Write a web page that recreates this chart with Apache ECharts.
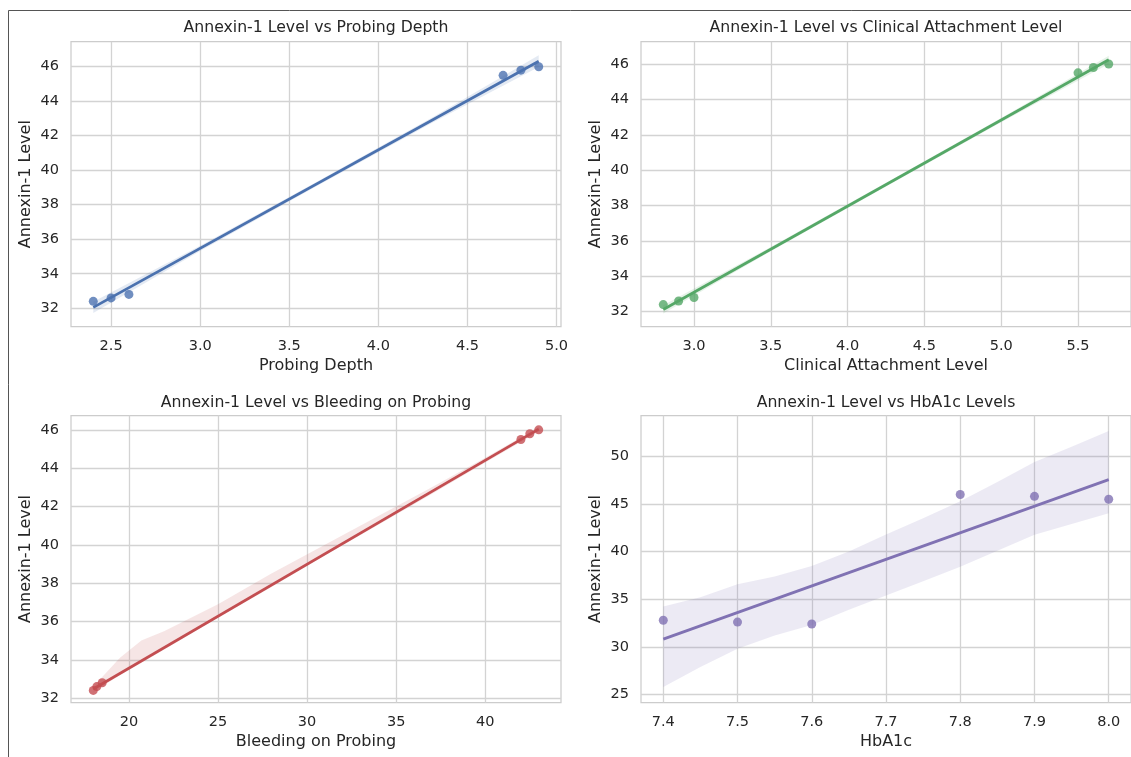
<!DOCTYPE html>
<html><head><meta charset="utf-8">
<script src="https://cdn.jsdelivr.net/npm/echarts@6/dist/echarts.min.js"></script>
<style>html,body{margin:0;padding:0;background:#fff}#c{width:1131px;height:757px}</style>
</head><body><div id="c"></div>
<script>
// ---- data ----
const annexin = [32.4, 32.6, 32.8, 45.5, 45.8, 46.0];
const probingDepth = [2.4, 2.5, 2.6, 4.7, 4.8, 4.9];
const clinicalAttachment = [2.8, 2.9, 3.0, 5.5, 5.6, 5.7];
const bleedingOnProbing = [18.0, 18.2, 18.5, 42.0, 42.5, 43.0];
const hba1c = [7.6, 7.5, 7.4, 8.0, 7.9, 7.8];

// confidence bands (bootstrap)
const pdBandX = [2.4, 3.0, 3.65, 4.3, 4.9];
const pdBandLo = [31.72, 35.32, 39.06, 42.74, 45.99];
const pdBandHi = [32.38, 35.62, 39.30, 43.04, 46.67];
const calBandX = [2.8, 3.5, 4.25, 5.0, 5.7];
const calBandLo = [31.90, 35.42, 39.08, 42.71, 46.00];
const calBandHi = [32.36, 35.66, 39.28, 42.95, 46.46];
const bopBandX = [18, 18.5, 19.5, 20.7, 22, 25, 28, 31, 34, 37, 40, 43];
const bopBandLo = [32.3, 32.6, 33.2, 33.85, 34.55, 36.2, 37.8, 39.45, 41.05, 42.65, 44.3, 45.9];
const bopBandHi = [32.6, 33.1, 34.1, 35.0, 35.5, 36.9, 38.5, 40.0, 41.5, 43.0, 44.55, 46.15];
const hbBandX = [7.4, 7.45, 7.5, 7.55, 7.6, 7.65, 7.7, 7.75, 7.8, 7.85, 7.9, 7.95, 8.0];
const hbBandLo = [25.8, 27.9, 29.8, 31.2, 32.3, 33.9, 35.4, 36.9, 38.4, 40.1, 41.76, 42.9, 44.03];
const hbBandHi = [34.24, 35.2, 36.57, 37.4, 38.5, 40.0, 41.8, 43.5, 45.3, 47.3, 49.4, 51.0, 52.67];

// tick labels
const pdTicks = [2.5, 3.0, 3.5, 4.0, 4.5, 5.0];
const calTicks = [3.0, 3.5, 4.0, 4.5, 5.0, 5.5];
const bopTicks = [20, 25, 30, 35, 40];
const hbTicks = [7.4, 7.5, 7.6, 7.7, 7.8, 7.9, 8.0];
const annexTicks = [32, 34, 36, 38, 40, 42, 44, 46];
const annexTicksWide = [25, 30, 35, 40, 45, 50];

const titles = ['Annexin-1 Level vs Probing Depth', 'Annexin-1 Level vs Clinical Attachment Level',
  'Annexin-1 Level vs Bleeding on Probing', 'Annexin-1 Level vs HbA1c Levels'];
const xNames = ['Probing Depth', 'Clinical Attachment Level', 'Bleeding on Probing', 'HbA1c'];
const yName = 'Annexin-1 Level';

// ---- layout / style ----
const FONT = 'DejaVu Sans';
const TXT = '#262626';
const GRIDC = '#d3d3d3';
const panels = [
  {x: probingDepth, band: [pdBandX, pdBandLo, pdBandHi], xt: pdTicks, yt: annexTicks, xr: [2.275, 5.025], yr: [30.93, 47.45], color: '#4c72b0', dec: 1,
   g: {left: 71, top: 41.7, width: 490, height: 285}, ty: 28},
  {x: clinicalAttachment, band: [calBandX, calBandLo, calBandHi], xt: calTicks, yt: annexTicks, xr: [2.655, 5.845], yr: [31.15, 47.26], color: '#55a868', dec: 1,
   g: {left: 641, top: 41.7, width: 490, height: 285}, ty: 28},
  {x: bleedingOnProbing, band: [bopBandX, bopBandLo, bopBandHi], xt: bopTicks, yt: annexTicks, xr: [16.75, 44.25], yr: [31.77, 46.75], color: '#c44e52', dec: 0,
   g: {left: 71, top: 415.5, width: 490, height: 287}, ty: 403},
  {x: hba1c, band: [hbBandX, hbBandLo, hbBandHi], xt: hbTicks, yt: annexTicksWide, xr: [7.37, 8.03], yr: [24.16, 54.29], color: '#8172b3', dec: 1,
   g: {left: 641, top: 415.5, width: 490, height: 287}, ty: 403}
];

function ols(xs, ys) {
  const n = xs.length;
  const mx = xs.reduce((a, b) => a + b, 0) / n, my = ys.reduce((a, b) => a + b, 0) / n;
  let sxy = 0, sxx = 0;
  for (let i = 0; i < n; i++) { sxy += (xs[i] - mx) * (ys[i] - my); sxx += (xs[i] - mx) ** 2; }
  const b = sxy / sxx;
  return x => my + b * (x - mx);
}
function hexA(hex, a) {
  const r = parseInt(hex.slice(1, 3), 16), g = parseInt(hex.slice(3, 5), 16), b = parseInt(hex.slice(5, 7), 16);
  return `rgba(${r},${g},${b},${a})`;
}

const grid = [], xAxis = [], yAxis = [], series = [], graphic = [];
panels.forEach((p, i) => {
  grid.push(Object.assign({show: true, borderColor: '#cccccc', borderWidth: 1.25, backgroundColor: '#fff', containLabel: false}, p.g));
  xAxis.push({type: 'value', gridIndex: i, min: p.xr[0], max: p.xr[1],
    name: xNames[i], nameLocation: 'middle', nameGap: 31,
    nameTextStyle: {fontFamily: FONT, fontSize: 16, color: TXT},
    axisLine: {show: false}, axisTick: {show: false, customValues: p.xt},
    axisLabel: {customValues: p.xt, margin: 12, fontFamily: FONT, fontSize: 14.5, color: TXT,
      formatter: v => Number(v).toFixed(p.dec)},
    splitLine: {show: true, lineStyle: {color: GRIDC, width: 1.3}}});
  yAxis.push({type: 'value', gridIndex: i, min: p.yr[0], max: p.yr[1],
    name: yName, nameLocation: 'middle', nameGap: 37, nameRotate: 90,
    nameTextStyle: {fontFamily: FONT, fontSize: 16, color: TXT},
    axisLine: {show: false}, axisTick: {show: false, customValues: p.yt},
    axisLabel: {customValues: p.yt, margin: 12, fontFamily: FONT, fontSize: 14.5, color: TXT,
      formatter: v => String(Math.round(v))},
    splitLine: {show: true, lineStyle: {color: GRIDC, width: 1.3}}});

  const pts = p.x.map((v, k) => [v, annexin[k]]);
  series.push({type: 'scatter', xAxisIndex: i, yAxisIndex: i, data: pts, symbolSize: 9,
    itemStyle: {color: p.color, opacity: 0.8}, z: 2, silent: true});
  const f = ols(p.x, annexin);
  const x0 = Math.min(...p.x), x1 = Math.max(...p.x);
  series.push({type: 'line', xAxisIndex: i, yAxisIndex: i, data: [[x0, f(x0)], [x1, f(x1)]],
    symbol: 'none', lineStyle: {color: p.color, width: 2.8}, z: 3, silent: true});
  const [bx, lo, hi] = p.band;
  series.push({type: 'custom', xAxisIndex: i, yAxisIndex: i, data: [[bx[0], lo[0]]], z: 4, silent: true,
    renderItem: (params, api) => {
      const poly = [];
      for (let k = 0; k < bx.length; k++) poly.push(api.coord([bx[k], hi[k]]));
      for (let k = bx.length - 1; k >= 0; k--) poly.push(api.coord([bx[k], lo[k]]));
      return {type: 'polygon', shape: {points: poly}, style: {fill: hexA(p.color, 0.15)}};
    }});

  graphic.push({type: 'text', x: p.g.left + p.g.width / 2, y: p.ty,
    style: {text: titles[i], fontFamily: FONT, fontSize: 15.7, fill: TXT, align: 'center', verticalAlign: 'middle'}});
});
graphic.push({type: 'rect', shape: {x: 8.5, y: 10.5, width: 1300, height: 1000},
  style: {fill: 'none', stroke: '#555', lineWidth: 1}, z: 100});

const chart = echarts.init(document.getElementById('c'), null, {renderer: 'canvas'});
chart.setOption({animation: false, backgroundColor: '#fff', grid, xAxis, yAxis, series, graphic});
</script></body></html>
